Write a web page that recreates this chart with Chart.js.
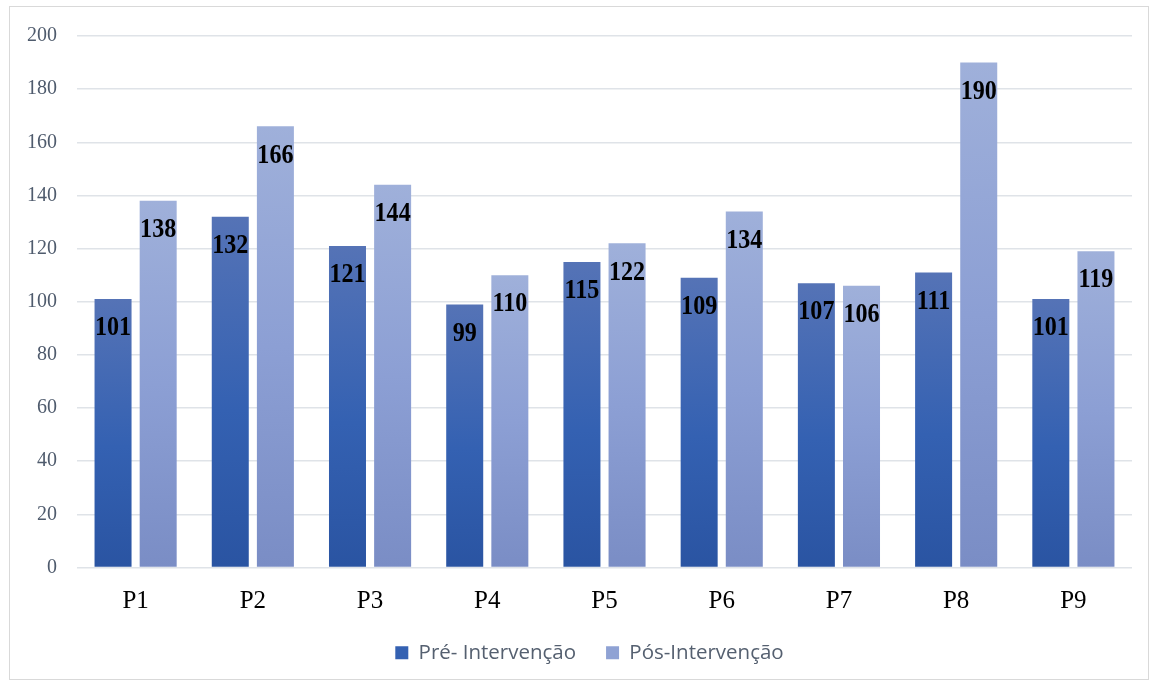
<!DOCTYPE html>
<html>
<head>
<meta charset="utf-8">
<script src="https://cdn.jsdelivr.net/npm/chart.js@4.4.0/dist/chart.umd.min.js"></script>
<style>
  html, body { margin: 0; padding: 0; background: #fff; }
  #wrap { width: 1157px; height: 686px; }
</style>
</head>
<body>
<div id="wrap"><canvas id="myChart" width="1157" height="686"></canvas></div>
<script>
// data
let categories = ['P1', 'P2', 'P3', 'P4', 'P5', 'P6', 'P7', 'P8', 'P9'];
let preValues = [101, 132, 121, 99, 115, 109, 107, 111, 101];
let posValues = [138, 166, 144, 110, 122, 134, 106, 190, 119];
let seriesNames = ['Pré- Intervenção', 'Pós-Intervenção'];
let yTicks = [0, 20, 40, 60, 80, 100, 120, 140, 160, 180, 200];

// per bar vertical gradient
function barGradient(stops) {
  return function (context) {
    let chart = context.chart;
    if (!chart.chartArea || !chart.scales.y || context.raw === undefined) {
      return stops[1][1];
    }
    let yScale = chart.scales.y;
    let top = yScale.getPixelForValue(context.raw);
    let base = yScale.getPixelForValue(0);
    let g = chart.ctx.createLinearGradient(0, top, 0, base);
    stops.forEach(function (s) { g.addColorStop(s[0], s[1]); });
    return g;
  };
}

let darkStops = [[0, '#5573b6'], [0.55, '#3461b2'], [1, '#2a54a2']];
let lightStops = [[0, '#9fb0da'], [0.5, '#8c9fd4'], [1, '#7a8dc5']];

// box round the whole chart
let frame = {
  id: 'frame',
  beforeDraw(chart) {
    let ctx = chart.ctx;
    ctx.save();
    ctx.fillStyle = '#ffffff';
    ctx.fillRect(0, 0, chart.width, chart.height);
    ctx.strokeStyle = '#d9d9d9';
    ctx.lineWidth = 1;
    ctx.strokeRect(9.5, 6.5, 1139, 673);
    ctx.restore();
  }
};

// legend sits centred under the plot, not under the whole canvas
let legendShift = {
  id: 'legendShift',
  afterLayout(chart) {
    let lg = chart.legend;
    if (!lg) return;
    let dx = (chart.chartArea.left + chart.chartArea.right) / 2 - (lg.left + lg.right) / 2 - 15;
    lg.left += dx;
    lg.right += dx;
  }
};

// value labels inside the top of each bar (Times bold, a bit narrow)
let valueLabels = {
  id: 'valueLabels',
  afterDatasetsDraw(chart) {
    let ctx = chart.ctx;
    chart.data.datasets.forEach(function (ds, i) {
      let meta = chart.getDatasetMeta(i);
      meta.data.forEach(function (bar, j) {
        ctx.save();
        ctx.translate(bar.x, bar.y + 29);
        ctx.scale(0.86, 1);
        ctx.font = 'bold 28px "Liberation Serif", "Times New Roman", serif';
        ctx.fillStyle = '#000000';
        ctx.textAlign = 'center';
        ctx.textBaseline = 'middle';
        ctx.fillText(ds.data[j], 0, 0);
        ctx.restore();
      });
    });
  }
};

let ctx = document.getElementById('myChart').getContext('2d');
let myChart = new Chart(ctx, {
  type: 'bar',
  data: {
    labels: categories,
    datasets: [{
      label: seriesNames[0],
      data: preValues,
      backgroundColor: barGradient(darkStops),
      borderWidth: 0
    }, {
      label: seriesNames[1],
      data: posValues,
      backgroundColor: barGradient(lightStops),
      borderWidth: 0
    }]
  },
  options: {
    responsive: false,
    animation: false,
    layout: {
      padding: { left: 10, right: 25, top: 36, bottom: 13 }
    },
    datasets: {
      bar: { categoryPercentage: 0.77, barPercentage: 0.82 }
    },
    plugins: {
      legend: {
        position: 'bottom',
        labels: {
          color: '#556070',
          font: { family: '"Open Sans", "Noto Sans", sans-serif', size: 20.5 },
          boxWidth: 13,
          boxHeight: 13,
          padding: 30,
          generateLabels: function (chart) {
            return seriesNames.map(function (name, i) {
              return {
                text: name,
                fillStyle: i === 0 ? '#3461b2' : '#8fa2d4',
                strokeStyle: 'transparent',
                lineWidth: 0,
                datasetIndex: i,
                fontColor: '#556070'
              };
            });
          }
        }
      },
      tooltip: { enabled: false }
    },
    scales: {
      x: {
        grid: { display: false },
        border: { display: false },
        afterFit: function (axis) { axis.height = 45; },
        ticks: {
          color: '#000000',
          font: { family: '"Liberation Serif", "Times New Roman", serif', size: 25, lineHeight: 1 },
          padding: 13
        }
      },
      y: {
        min: 0,
        max: 200,
        afterBuildTicks: function (axis) {
          axis.ticks = yTicks.map(function (v) { return { value: v }; });
        },
        afterFit: function (axis) { axis.width = 67; },
        grid: { color: '#dfe3e8', lineWidth: 1.5, drawTicks: false },
        border: { display: false },
        ticks: {
          color: '#4f5b6d',
          font: { family: '"Liberation Serif", "Times New Roman", serif', size: 20 },
          padding: 20
        }
      }
    }
  },
  plugins: [frame, legendShift, valueLabels]
});
</script>
</body>
</html>
